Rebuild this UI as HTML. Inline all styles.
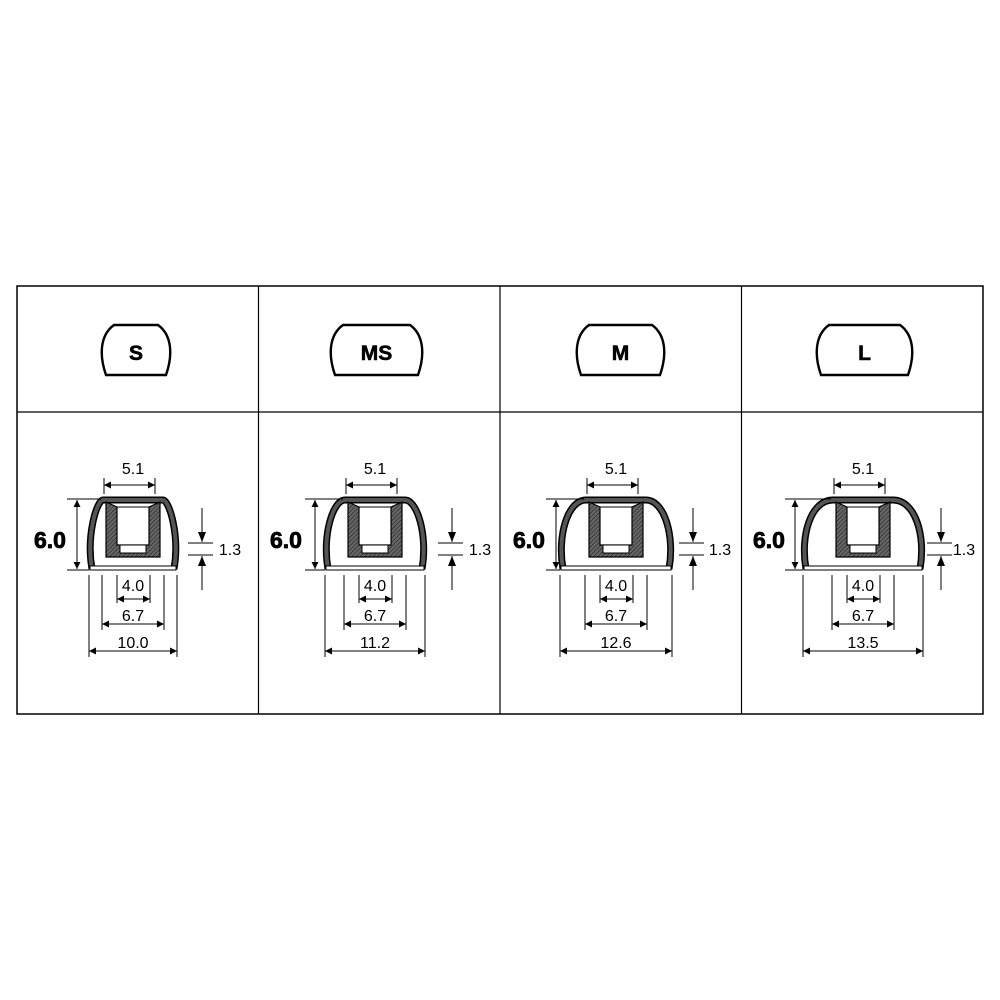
<!DOCTYPE html>
<html><head><meta charset="utf-8"><style>
body{margin:0;background:#fff}
svg{display:block}
text{font-family:"Liberation Sans",Arial,sans-serif}
</style></head><body>
<svg id="s" width="1000" height="1000" viewBox="0 0 1000 1000" xmlns="http://www.w3.org/2000/svg">
<defs>
<marker id="a" viewBox="0 0 10 10" refX="10" refY="5" markerWidth="9" markerHeight="7" orient="auto-start-reverse" markerUnits="userSpaceOnUse"><path d="M0,0 L10,5 L0,10 z" fill="#000"/></marker>
<pattern id="h" width="3" height="3" patternUnits="userSpaceOnUse" patternTransform="rotate(45)"><rect width="3" height="3" fill="#666"/><line x1="0" y1="0" x2="0" y2="3" stroke="#222" stroke-width="1.2"/></pattern>
</defs>
<rect x="17" y="286" width="966" height="428" fill="none" stroke="#000" stroke-width="1.5"/>
<line x1="17" y1="412" x2="983" y2="412" stroke="#000" stroke-width="1.2"/>
<line x1="258.5" y1="286" x2="258.5" y2="714" stroke="#000" stroke-width="1.2"/>
<line x1="500" y1="286" x2="500" y2="714" stroke="#000" stroke-width="1.2"/>
<line x1="741.5" y1="286" x2="741.5" y2="714" stroke="#000" stroke-width="1.2"/>
<g id="g"></g>
</svg>
<script>
var cols=[
 {cx:133,W:44,b:[102,170],lab:"S",t6:50,a6:77,m:202,t13:230,d:"10.0"},
 {cx:375,W:50,b:[331,422],lab:"MS",t6:286,a6:315,m:452,t13:480,d:"11.2"},
 {cx:616,W:56,b:[577,664],lab:"M",t6:529,a6:556,m:693,t13:720,d:"12.6"},
 {cx:863,W:60,b:[817,912],lab:"L",t6:769,a6:795,m:941,t13:964,d:"13.5"}];
var o="";
function L(x1,y1,x2,y2,m){return '<line x1="'+x1+'" y1="'+y1+'" x2="'+x2+'" y2="'+y2+'" stroke="#000" stroke-width="1"'+(m?' marker-start="url(#a)" marker-end="url(#a)"':'')+'/>';}
function T(x,y,s,sz,b){return '<text x="'+x+'" y="'+y+'" font-size="'+sz+'" text-anchor="middle"'+(b?' font-weight="bold"':'')+'>'+s+'</text>';}
cols.forEach(function(c){
 var x1=c.b[0],x2=c.b[1],w=x2-x1,bc=(x1+x2)/2;
 o+='<path d="M'+(x1+4)+',375 C'+(x1-3)+',355 '+(x1-2)+',335 '+(x1+12)+',325 L'+(x2-12)+',325 C'+(x2+2)+',335 '+(x2+3)+',355 '+(x2-4)+',375 Z" fill="#fff" stroke="#000" stroke-width="2.4"/>';
 o+=L(x1+12,325.5,x2-12,325.5)+L(x1+4,374.5,x2-4,374.5);
 o+='<text x="'+bc+'" y="360" font-size="21" text-anchor="middle" font-weight="bold" stroke="#000" stroke-width="0.6">'+c.lab+'</text>';
 var cx=c.cx,W=c.W;
 var sh='M'+(cx-W+3)+',569 C'+(cx-W-3)+',535 '+(cx-W+8)+',500 '+(cx-30)+',500 L'+(cx+30)+',500 C'+(cx+W-8)+',500 '+(cx+W+3)+',535 '+(cx+W-3)+',569';
 o+='<path d="'+sh+'" fill="none" stroke="#000" stroke-width="7"/>';
 o+='<path d="'+sh+'" fill="none" stroke="#555" stroke-width="4"/>';
 o+='<rect x="'+(cx-W+1)+'" y="566" width="'+(2*W-2)+'" height="4" fill="#fff" stroke="#000" stroke-width="1"/>';
 o+='<path d="M'+(cx-27)+',502 L'+(cx-27)+',557 L'+(cx+27)+',557 L'+(cx+27)+',502 L'+(cx+16)+',507 L'+(cx+16)+',545 L'+(cx-16)+',545 L'+(cx-16)+',507 Z" fill="url(#h)" stroke="#000" stroke-width="1.2"/>';
 o+='<rect x="'+(cx-13)+'" y="545" width="26" height="8" fill="#fff" stroke="#000" stroke-width="1"/>';
 o+=L(cx-16,507,cx+16,507);
 o+=T(cx,474,"5.1",16)+L(cx-29,485,cx+22,485,1)+L(cx-29,478,cx-29,494)+L(cx+22,478,cx+22,494);
 o+='<text x="'+c.t6+'" y="548" font-size="23" text-anchor="middle" font-weight="bold" stroke="#000" stroke-width="0.8">6.0</text>';
 o+=L(c.a6-10,499,cx-32,499)+L(c.a6-10,570,cx-W,570)+L(c.a6,500,c.a6,569,1);
 o+=L(c.m-14,543,c.m+11,543)+L(c.m-14,555,c.m+11,555)+L(c.m,508,c.m,542)+L(c.m,556,c.m,590);
 o+='<path d="M'+(c.m-4)+',532 L'+c.m+',542 L'+(c.m+4)+',532 Z M'+(c.m-4)+',566 L'+c.m+',556 L'+(c.m+4)+',566 Z"/>';
 o+=T(c.t13,555,"1.3",16);
 o+=L(cx-16,575,cx-16,603)+L(cx+17,575,cx+17,603)+T(cx,591,"4.0",16)+L(cx-16,599,cx+17,599,1);
 o+=L(cx-31,575,cx-31,630)+L(cx+31,575,cx+31,630)+T(cx,621,"6.7",16)+L(cx-31,624,cx+31,624,1);
 o+=L(cx-W,575,cx-W,657)+L(cx+W,575,cx+W,657)+T(cx,648,c.d,16)+L(cx-W,651,cx+W,651,1);
});
document.getElementById("g").innerHTML=o;
</script>
</body></html>
